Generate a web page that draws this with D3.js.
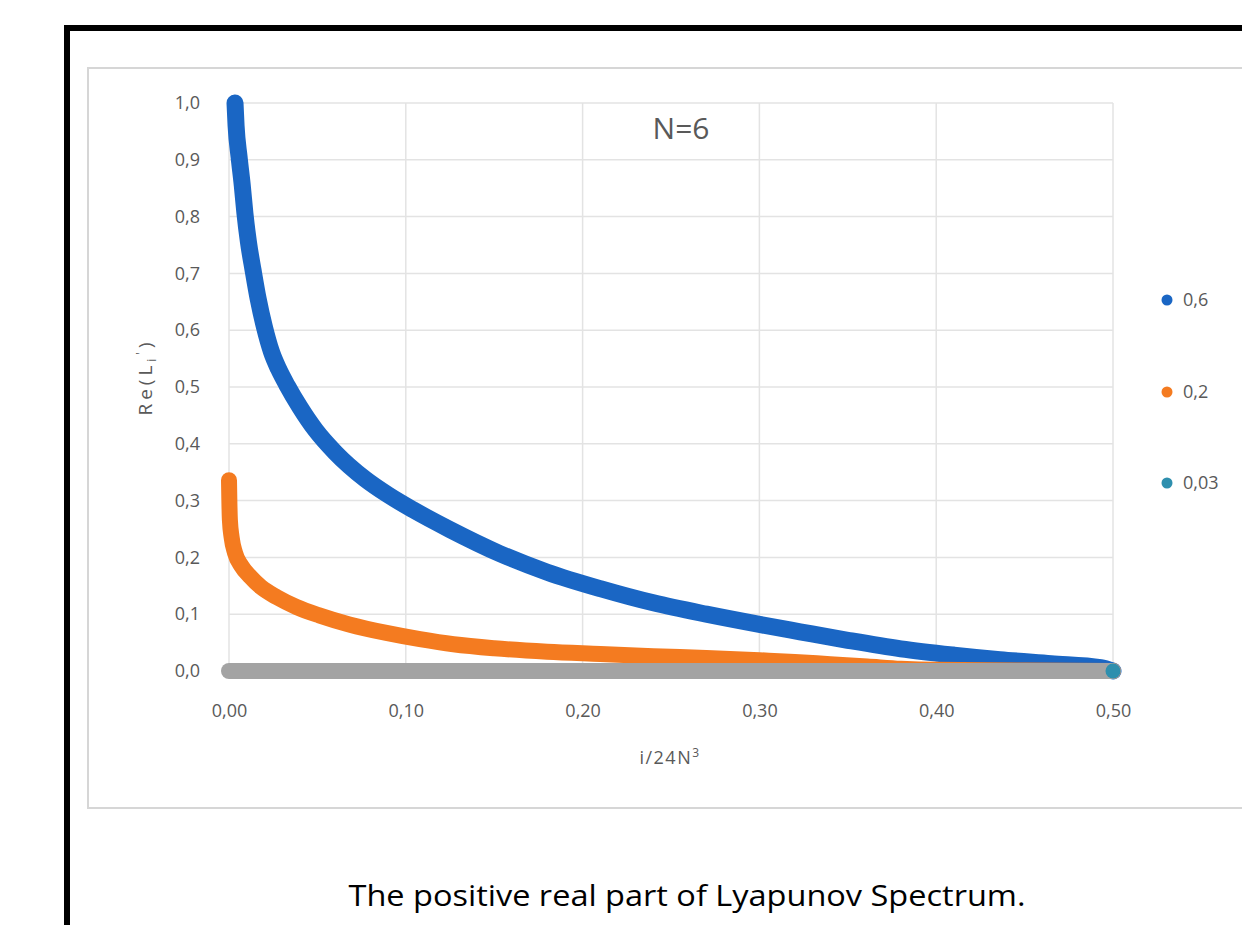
<!DOCTYPE html>
<html>
<head>
<meta charset="utf-8">
<script src="https://cdn.jsdelivr.net/npm/d3@7"></script>
<style>
  body { margin: 0; background: #fff; }
  svg { display: block; }
</style>
</head>
<body>
<script>
// values
const xTicks = [0, 0.1, 0.2, 0.3, 0.4, 0.5];
const yTicks = [0, 0.1, 0.2, 0.3, 0.4, 0.5, 0.6, 0.7, 0.8, 0.9, 1.0];
const legendNames = ['0,6', '0,2', '0,03'];

const series06 = [
  [0.0034, 1.000], [0.0040, 0.960], [0.0057, 0.905], [0.0075, 0.855],
  [0.0090, 0.806], [0.0110, 0.755], [0.0136, 0.706], [0.0165, 0.655],
  [0.0200, 0.606], [0.0240, 0.562], [0.0280, 0.532], [0.0330, 0.502],
  [0.0400, 0.465], [0.0490, 0.424], [0.0600, 0.385], [0.0770, 0.338],
  [0.0900, 0.310], [0.1040, 0.284], [0.1250, 0.249], [0.1530, 0.207],
  [0.1800, 0.174], [0.2100, 0.145], [0.2400, 0.120], [0.2700, 0.100],
  [0.3000, 0.082], [0.3230, 0.069], [0.3500, 0.054], [0.3800, 0.039],
  [0.4100, 0.028], [0.4360, 0.020], [0.4650, 0.013], [0.4930, 0.006],
  [0.5000, 0.000]
];

const series02 = [
  [0.0000, 0.336], [0.0002, 0.300], [0.0005, 0.266], [0.0015, 0.235],
  [0.0034, 0.208], [0.0070, 0.185], [0.0120, 0.166], [0.0180, 0.148],
  [0.0270, 0.130], [0.0380, 0.113], [0.0510, 0.098], [0.0680, 0.082],
  [0.0890, 0.067], [0.1080, 0.056], [0.1270, 0.047], [0.1500, 0.040],
  [0.1800, 0.034], [0.2100, 0.030], [0.2400, 0.026], [0.2700, 0.023],
  [0.3000, 0.019], [0.3200, 0.016], [0.3400, 0.012], [0.3610, 0.008],
  [0.3800, 0.004], [0.4000, 0.002], [0.4500, 0.001], [0.5000, 0.000]
];

const series003 = [
  [0.000, 0.000], [0.100, 0.000], [0.200, 0.000], [0.300, 0.000],
  [0.400, 0.000], [0.500, 0.000]
];

const colors = ['#1a66c4', '#f47b20', '#2e8fae'];
const bandGray = '#a3a3a3';

const W = 1242, H = 925;
const svg = d3.select('body').append('svg')
  .attr('width', W)
  .attr('height', H);

const font = '"Open Sans", "Liberation Sans", sans-serif';

// outer black frame (runs past right and bottom edges)
svg.append('rect')
  .attr('x', 67).attr('y', 28)
  .attr('width', 1400).attr('height', 1200)
  .attr('fill', 'none')
  .attr('stroke', '#000')
  .attr('stroke-width', 6);

// chart box
svg.append('rect')
  .attr('x', 88).attr('y', 68)
  .attr('width', 1300).attr('height', 740)
  .attr('fill', '#fff')
  .attr('stroke', '#d6d6d6')
  .attr('stroke-width', 2);

const x = d3.scaleLinear().domain([0, 0.5]).range([229, 1113]);
const y = d3.scaleLinear().domain([0, 1]).range([671, 103]);

const loc = d3.formatLocale({ decimal: ',', thousands: '.', grouping: [3], currency: ['', ''] });
const fx = loc.format('.2f');
const fy = loc.format('.1f');

// gridlines
const grid = svg.append('g');
grid.selectAll('.hg').data(yTicks).enter().append('line')
  .attr('class', 'hg')
  .attr('x1', x(0)).attr('x2', x(0.5))
  .attr('y1', d => y(d)).attr('y2', d => y(d))
  .attr('stroke', '#e3e3e3').attr('stroke-width', 1.5);
grid.selectAll('.vg').data(xTicks).enter().append('line')
  .attr('class', 'vg')
  .attr('x1', d => x(d)).attr('x2', d => x(d))
  .attr('y1', y(0)).attr('y2', y(1))
  .attr('stroke', '#e3e3e3').attr('stroke-width', 1.5);

// axes (labels only, no domain lines)
const yAxis = svg.append('g')
  .attr('transform', `translate(${x(0) - 26},0)`)
  .call(d3.axisLeft(y).tickValues(yTicks).tickFormat(fy).tickSize(0));
const xAxis = svg.append('g')
  .attr('transform', `translate(0,${y(0) + 30})`)
  .call(d3.axisBottom(x).tickValues(xTicks).tickFormat(fx).tickSize(0));
[xAxis, yAxis].forEach(a => {
  a.select('.domain').remove();
  a.selectAll('text')
    .attr('fill', '#595959')
    .style('font-family', font)
    .style('font-size', '18px');
});

// series bands
const line = d3.line()
  .x(d => x(d[0]))
  .y(d => y(d[1]))
  .curve(d3.curveMonotoneX);

svg.append('path').datum(series06)
  .attr('d', line)
  .attr('fill', 'none')
  .attr('stroke', colors[0])
  .attr('stroke-width', 17)
  .attr('stroke-linecap', 'round')
  .attr('stroke-linejoin', 'round');

svg.append('path').datum(series02)
  .attr('d', line)
  .attr('fill', 'none')
  .attr('stroke', colors[1])
  .attr('stroke-width', 16)
  .attr('stroke-linecap', 'round')
  .attr('stroke-linejoin', 'round');

svg.append('path').datum(series003)
  .attr('d', line)
  .attr('fill', 'none')
  .attr('stroke', bandGray)
  .attr('stroke-width', 16)
  .attr('stroke-linecap', 'round');

// last point of the 0.03 series
const last = series003[series003.length - 1];
svg.append('circle')
  .attr('cx', x(last[0])).attr('cy', y(last[1]))
  .attr('r', 7.5)
  .attr('fill', colors[2]);

// title
svg.append('text')
  .attr('x', 681).attr('y', 139)
  .attr('text-anchor', 'middle')
  .attr('fill', '#595959')
  .style('font-family', font)
  .style('font-size', '30px')
  .text('N=6');

// x axis title
const xt = svg.append('text')
  .attr('x', 670).attr('y', 764)
  .attr('text-anchor', 'middle')
  .attr('fill', '#595959')
  .style('font-family', font)
  .style('font-size', '18px')
  .style('letter-spacing', '1.5px')
  .text('i/24N');
xt.append('tspan').attr('dy', -7).style('font-size', '12px').text('3');

// y axis title
const yt = svg.append('text')
  .attr('transform', `translate(152,377) rotate(-90)`)
  .attr('text-anchor', 'middle')
  .attr('fill', '#595959')
  .style('font-family', font)
  .style('font-size', '19px')
  .style('letter-spacing', '4px');
yt.append('tspan').text('Re(L');
yt.append('tspan').attr('dy', 4).style('font-size', '12px').text('i');
yt.append('tspan').attr('dy', -11).style('font-size', '12px').text('\'');
yt.append('tspan').attr('dy', 7).text(')');

// legend
const legend = svg.append('g');
const legY = [300, 392, 483];
legendNames.forEach((name, i) => {
  legend.append('circle')
    .attr('cx', 1167).attr('cy', legY[i])
    .attr('r', 5.5)
    .attr('fill', colors[i]);
  legend.append('text')
    .attr('x', 1183).attr('y', legY[i] + 6)
    .attr('fill', '#595959')
    .style('font-family', font)
    .style('font-size', '18px')
    .text(name);
});

// caption
svg.append('text')
  .attr('x', 687).attr('y', 906)
  .attr('text-anchor', 'middle')
  .attr('fill', '#000')
  .attr('textLength', 677)
  .attr('lengthAdjust', 'spacingAndGlyphs')
  .style('font-family', font)
  .style('font-size', '29px')
  .text('The positive real part of Lyapunov Spectrum.');
</script>
</body>
</html>
